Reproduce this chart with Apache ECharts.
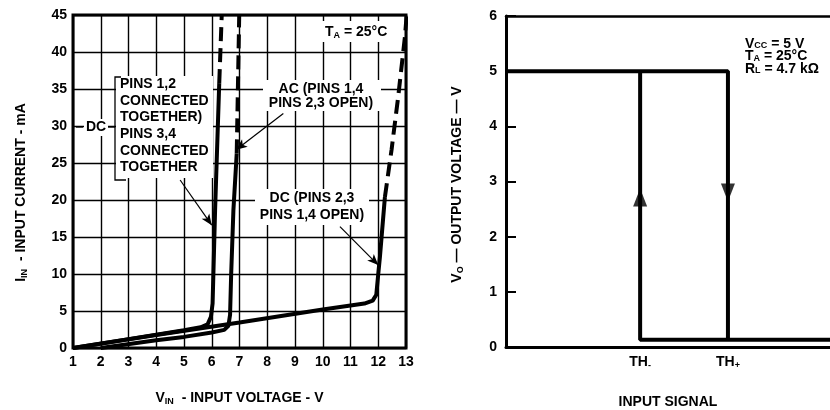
<!DOCTYPE html>
<html>
<head>
<meta charset="utf-8">
<script src="https://cdn.jsdelivr.net/npm/echarts@6.0.0/dist/echarts.min.js"></script>
<style>
  html, body { margin: 0; padding: 0; background: #fff; }
  #chart { width: 830px; height: 410px; }
</style>
</head>
<body>
<div id="chart"></div>
<script>
// left panel: input current (mA) vs input voltage (V)
var voltMin = 1
var voltMax = 13
var currentMax = 45
var dc12Solid = [[1, 0], [3, 1.2], [5, 2.4], [5.6, 2.8], [5.85, 3.2], [5.97, 4.2], [6.03, 6], [6.12, 18.6], [6.27, 35.8]]
var dc12Dashed = [[6.27, 35.8], [6.36, 45]]
var acSolid = [[2.0, 0], [4, 1.05], [5, 1.5], [6, 2.1], [6.45, 2.45], [6.6, 3.0], [6.66, 4.5], [6.7, 10], [6.78, 18.6], [6.9, 26.3]]
var acDashed = [[6.9, 26.3], [6.99, 45]]
var dc23Solid = [[1, 0], [4, 1.75], [7, 3.45], [10, 5.2], [11.5, 6.0], [11.8, 6.4], [11.93, 7.2], [12.0, 10], [12.06, 12.3], [12.24, 20.4]]
var dc23Dashed = [[12.24, 20.4], [12.48, 26.8], [12.72, 34], [12.96, 42], [13.02, 44.8]]
// pointer arrows (from label to curve), data coords
var pointers = [
  [[4.86, 22.7], [6.0, 16.6]],
  [[8.58, 31.7], [6.88, 26.8]],
  [[10.62, 16.4], [12.0, 11.2]]
]

// right panel: output voltage vs input signal
var outMax = 6
var signalMax = 100
var thMinus = 41.4
var thPlus = 68.5
var lowLevel = 0.13
var highLevel = 5
var highPath = [[0, highLevel], [thPlus, highLevel], [thPlus, lowLevel]]
var lowPath = [[thMinus, highLevel], [thMinus, lowLevel], [signalMax, lowLevel]]
var arrowUp = [[thMinus, 2.71]]
var arrowDown = [[thPlus, 2.8]]

var FONT = '"Liberation Sans", Arial, sans-serif'
var subRich = {
  n: { fontSize: 14, fontWeight: 'bold', fontFamily: FONT, color: '#000', lineHeight: 16 },
  s: { fontSize: 9, fontWeight: 'bold', fontFamily: FONT, color: '#000', verticalAlign: 'bottom', lineHeight: 10 }
}
var subRichSmall = {
  n: { fontSize: 14, fontWeight: 'bold', fontFamily: FONT, color: '#000', lineHeight: 12.3 },
  s: { fontSize: 9, fontWeight: 'bold', fontFamily: FONT, color: '#000', verticalAlign: 'bottom', lineHeight: 8 }
}

function lineSeries(data, xi, dashed) {
  return {
    type: 'line',
    xAxisIndex: xi,
    yAxisIndex: xi,
    data: data,
    showSymbol: false,
    silent: true,
    lineStyle: { color: '#000', width: 4, type: dashed ? [14, 7] : 'solid', cap: 'butt' },
    z: 3
  }
}

var chart = echarts.init(document.getElementById('chart'))

var dc12 = lineSeries(dc12Solid, 0, false)
dc12.markLine = {
  silent: true,
  symbol: ['none', 'arrow'],
  symbolSize: [7, 11],
  label: { show: false },
  lineStyle: { color: '#000', width: 1.2, type: 'solid' },
  data: pointers.map(function(p) {
    return [{ coord: p[0] }, { coord: p[1] }]
  })
}

chart.setOption({
  animation: false,
  backgroundColor: '#fff',
  textStyle: { fontFamily: FONT },
  grid: [
    { left: 73, top: 15, width: 333, height: 333, show: true, borderColor: '#000', borderWidth: 3, outerBoundsMode: 'none' },
    { left: 506, top: 16, right: 0, height: 331, outerBoundsMode: 'none' }
  ],
  xAxis: [
    {
      gridIndex: 0,
      type: 'value',
      min: voltMin,
      max: voltMax,
      interval: 1,
      axisLine: { show: false },
      axisTick: { show: false },
      splitLine: { show: true, lineStyle: { color: '#000', width: 1.4 } },
      axisLabel: { color: '#000', fontWeight: 'bold', fontSize: 14, margin: 7, fontFamily: FONT },
      name: '{n|V}{s|IN}{n|  - INPUT VOLTAGE - V}',
      nameLocation: 'middle',
      nameGap: 42,
      nameTextStyle: { rich: subRich }
    },
    {
      gridIndex: 1,
      type: 'value',
      min: 0,
      max: signalMax,
      axisLine: { show: true, lineStyle: { color: '#000', width: 3 } },
      axisTick: { show: false },
      splitLine: { show: false },
      axisLabel: {
        customValues: [thMinus, thPlus],
        margin: 7,
        formatter: function(v) {
          return Math.abs(v - thMinus) < 0.01 ? '{n|TH}{s|-}' : '{n|TH}{s|+}'
        },
        rich: subRich
      },
      name: 'INPUT SIGNAL',
      nameLocation: 'middle',
      nameGap: 48,
      nameTextStyle: { color: '#000', fontWeight: 'bold', fontSize: 14, fontFamily: FONT }
    },
    {
      gridIndex: 1,
      type: 'value',
      position: 'top',
      min: 0,
      max: signalMax,
      axisLine: { show: true, lineStyle: { color: '#000', width: 2.5 } },
      axisTick: { show: false },
      axisLabel: { show: false },
      splitLine: { show: false }
    }
  ],
  yAxis: [
    {
      gridIndex: 0,
      type: 'value',
      min: 0,
      max: currentMax,
      interval: 5,
      axisLine: { show: false },
      axisTick: { show: false },
      splitLine: { show: true, lineStyle: { color: '#000', width: 1.4 } },
      axisLabel: { color: '#000', fontWeight: 'bold', fontSize: 14, margin: 6, fontFamily: FONT },
      name: '{n|I}{s|IN}{n|  - INPUT CURRENT - mA}',
      nameLocation: 'middle',
      nameGap: 44,
      nameTextStyle: { rich: subRich, padding: [0, 22, 0, 0] }
    },
    {
      gridIndex: 1,
      type: 'value',
      min: 0,
      max: outMax,
      interval: 1,
      axisLine: { show: true, lineStyle: { color: '#000', width: 3 } },
      axisTick: { show: true, inside: true, length: 10, lineStyle: { color: '#000', width: 2 } },
      splitLine: { show: false },
      axisLabel: { color: '#000', fontWeight: 'bold', fontSize: 14, margin: 9, fontFamily: FONT },
      name: '{n|V}{s|O}{n| — OUTPUT VOLTAGE — V}',
      nameLocation: 'middle',
      nameGap: 41,
      nameTextStyle: { rich: subRich, padding: [0, 6, 0, 0] }
    }
  ],
  series: [
    dc12,
    lineSeries(dc12Dashed, 0, true),
    lineSeries(acSolid, 0, false),
    lineSeries(acDashed, 0, true),
    lineSeries(dc23Solid, 0, false),
    lineSeries(dc23Dashed, 0, true),
    lineSeries(highPath, 1, false),
    lineSeries(lowPath, 1, false),
    {
      type: 'scatter', xAxisIndex: 1, yAxisIndex: 1, data: arrowUp, silent: true,
      symbol: 'triangle', symbolSize: [14, 18], itemStyle: { color: '#000' }, z: 4
    },
    {
      type: 'scatter', xAxisIndex: 1, yAxisIndex: 1, data: arrowDown, silent: true,
      symbol: 'triangle', symbolRotate: 180, symbolSize: [14, 18], itemStyle: { color: '#000' }, z: 4
    }
  ],
  graphic: [
    // label backgrounds hide the grid
    { type: 'rect', z: 1, shape: { x: 322, y: 21, width: 80, height: 21 }, style: { fill: '#fff' } },
    { type: 'rect', z: 1, shape: { x: 116, y: 76, width: 97, height: 102 }, style: { fill: '#fff' } },
    { type: 'rect', z: 1, shape: { x: 84, y: 119, width: 24, height: 17 }, style: { fill: '#fff' } },
    { type: 'rect', z: 1, shape: { x: 263, y: 80, width: 118, height: 31 }, style: { fill: '#fff' } },
    { type: 'rect', z: 1, shape: { x: 255, y: 189, width: 114, height: 36 }, style: { fill: '#fff' } },
    {
      type: 'text', z: 2, x: 325, y: 32,
      style: { text: '{n|T}{s|A}{n| = 25°C}', rich: subRich, verticalAlign: 'middle' }
    },
    {
      type: 'text', z: 2, x: 120, y: 76,
      style: {
        text: 'PINS 1,2\nCONNECTED\nTOGETHER)\nPINS 3,4\nCONNECTED\nTOGETHER',
        fontSize: 14, fontWeight: 'bold', fontFamily: FONT, fill: '#000', lineHeight: 16.6
      }
    },
    {
      type: 'text', z: 2, x: 96, y: 127,
      style: { text: 'DC', fontSize: 14, fontWeight: 'bold', fontFamily: FONT, fill: '#000', align: 'center', verticalAlign: 'middle' }
    },
    { type: 'polyline', z: 2, shape: { points: [[121, 77], [115, 77], [115, 180], [126, 180]] }, style: { stroke: '#000', lineWidth: 1.3, fill: null } },
    { type: 'line', z: 2, shape: { x1: 76, y1: 127, x2: 83, y2: 127 }, style: { stroke: '#000', lineWidth: 1.3 } },
    { type: 'line', z: 2, shape: { x1: 108, y1: 127, x2: 115, y2: 127 }, style: { stroke: '#000', lineWidth: 1.3 } },
    {
      type: 'text', z: 2, x: 321, y: 82,
      style: {
        text: 'AC (PINS 1,4\nPINS 2,3 OPEN)',
        fontSize: 14, fontWeight: 'bold', fontFamily: FONT, fill: '#000', align: 'center', lineHeight: 14
      }
    },
    {
      type: 'text', z: 2, x: 312, y: 190,
      style: {
        text: 'DC (PINS 2,3\nPINS 1,4 OPEN)',
        fontSize: 14, fontWeight: 'bold', fontFamily: FONT, fill: '#000', align: 'center', lineHeight: 17
      }
    },
    {
      type: 'text', z: 2, x: 745, y: 38,
      style: {
        text: '{n|V}{s|CC}{n| = 5 V}\n{n|T}{s|A}{n| = 25°C}\n{n|R}{s|L}{n| = 4.7 kΩ}',
        rich: subRichSmall
      }
    }
  ]
})
</script>
</body>
</html>
